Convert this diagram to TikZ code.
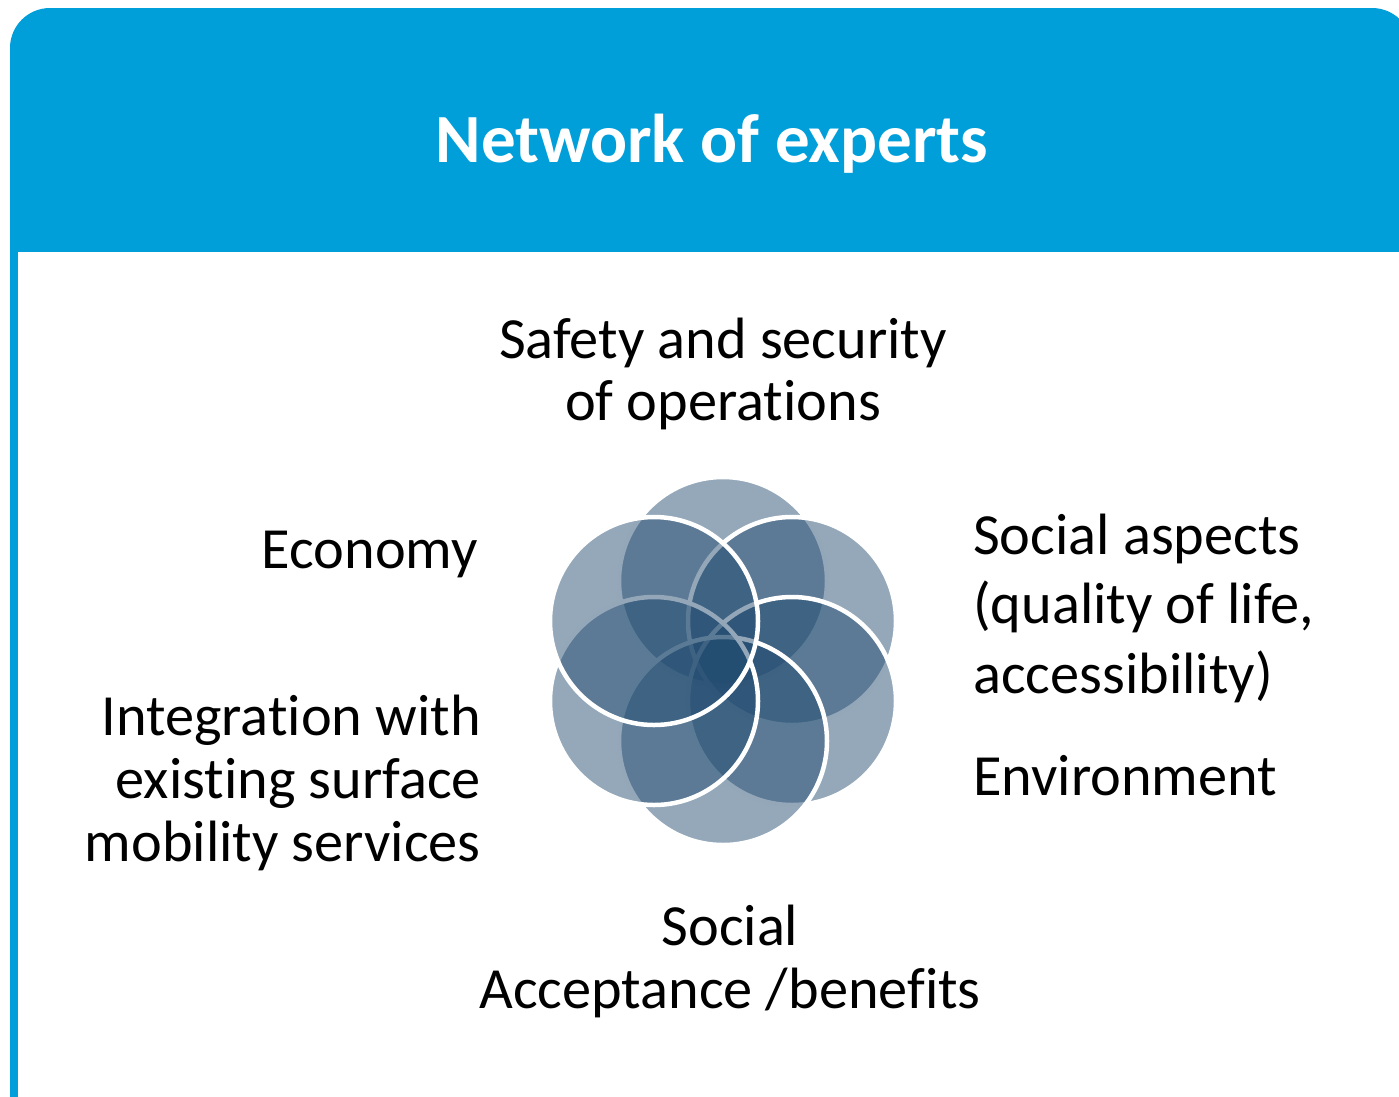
\documentclass[tikz,border=0pt]{standalone}
\usepackage{fontspec}
\setmainfont[Ligatures=NoCommon]{Carlito}
\newcommand\nolig{\kern0pt{}}
\definecolor{hdr}{RGB}{0,159,218}
\definecolor{petalc}{RGB}{31,73,110}
\tikzset{
  petal/.style={circle, minimum size=208pt, inner sep=0pt, fill=petalc, fill opacity=0.48, draw=white, draw opacity=1, line width=4.5pt},
  lbl/.style={font=\fontsize{58.3}{62}\selectfont, inner sep=0pt, text=black},
  ttl/.style={font=\fontsize{69}{72}\selectfont\bfseries, inner sep=0pt, text=white},
}
\begin{document}
\begin{tikzpicture}[x=1pt,y=-1pt]
\useasboundingbox (0,0) rectangle (1399,1096);
% header
\fill[hdr, rounded corners=40pt] (10,8) rectangle (1412,200);
\fill[hdr] (10,100) rectangle (1412,252);
\fill[hdr] (10,250) rectangle (18,1100);
\node[ttl, anchor=base] (title) at (712,162) {Network of experts};
% petals (drawn in order)
\node[petal] (T)  at (723,581) {};
\node[petal] (UR) at (792,621) {};
\node[petal] (LR) at (792,701) {};
\node[petal] (B)  at (723,741) {};
\node[petal] (LL) at (654,701) {};
\node[petal] (UL) at (654,621) {};
% labels
\node[lbl, anchor=base] (safetyA) at (723,358) {Safety and security};
\node[lbl, anchor=base] (safetyB) at (723,420) {of operat\nolig ions};
\node[lbl, anchor=base east] (econ) at (478,568) {Economy};
\node[lbl, anchor=base east] (integA) at (481,735) {Integrat\nolig ion with};
\node[lbl, anchor=base east] (integB) at (481,798) {existing surface};
\node[lbl, anchor=base east] (integC) at (481,861) {mobility services};
\node[lbl, anchor=base west] (socA) at (973,554) {Social aspects};
\node[lbl, anchor=base west] (socB) at (973,623) {(quality of life,};
\node[lbl, anchor=base west] (socC) at (973,693) {accessibility)};
\node[lbl, anchor=base west] (env) at (973,795) {Environment};
\node[lbl, anchor=base] (accA) at (730,945) {Social};
\node[lbl, anchor=base] (accB) at (730,1008) {Acceptance /benefits};
\end{tikzpicture}
\end{document}
